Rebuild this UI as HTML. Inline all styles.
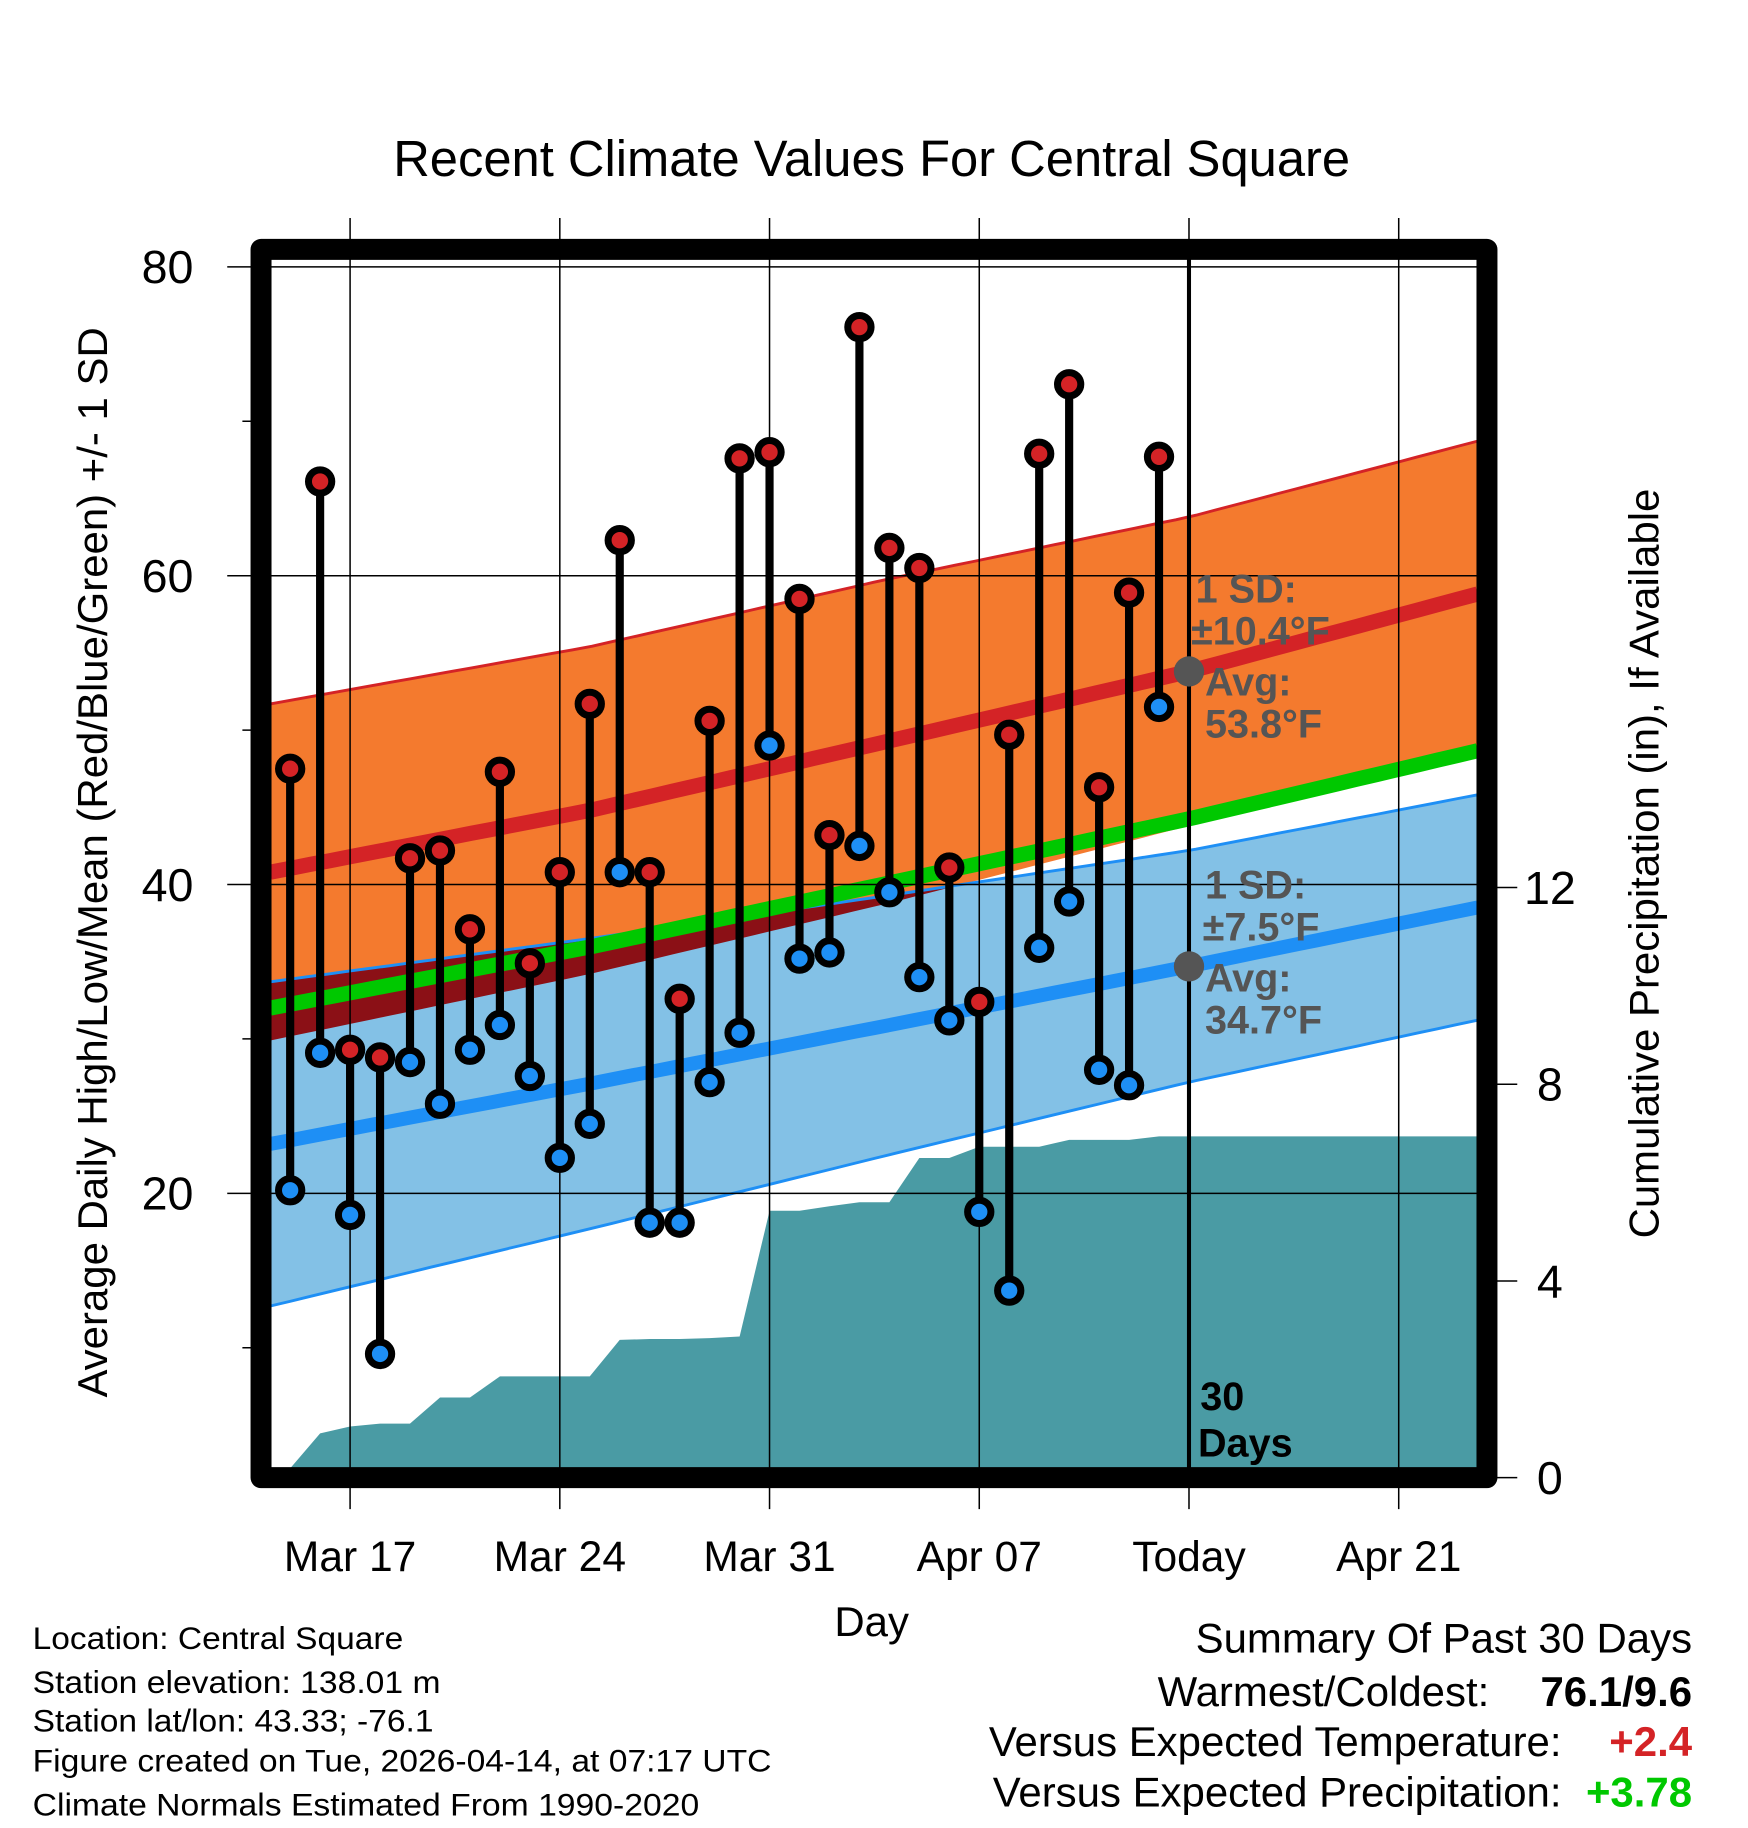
<!DOCTYPE html>
<html><head><meta charset="utf-8"><style>
html,body{margin:0;padding:0;background:#fff;}
svg{display:block;font-family:"Liberation Sans",Arial,sans-serif;}
</style></head><body>
<svg id="chart" width="1748" height="1828" viewBox="0 0 1500 1568.6" xmlns="http://www.w3.org/2000/svg">
<g id="layer"></g>
</svg>
<script>
// ---- data ----
const dayLabels = ["Mar 17","Mar 24","Mar 31","Apr 07","Today","Apr 21"];
const dayLabelIdx = [2,9,16,23,30,37];
const highs = [47.5,66.1,29.3,28.8,41.7,42.2,37.1,47.3,34.9,40.8,51.7,62.3,40.8,32.6,50.6,67.6,68.0,58.5,43.2,76.1,61.8,60.5,41.1,32.4,49.7,67.9,72.4,46.3,58.9,67.7];
const lows = [20.2,29.1,18.6,9.6,28.5,25.8,29.3,30.9,27.6,22.3,24.5,40.8,18.1,18.1,27.2,30.4,49.0,35.2,35.6,42.5,39.5,34.0,31.2,18.8,13.7,35.9,38.9,28.0,27.0,51.5];
const precipCum = [0,0.9,1.04,1.1,1.1,1.63,1.63,2.06,2.06,2.06,2.06,2.8,2.82,2.82,2.84,2.87,5.43,5.43,5.52,5.6,5.6,6.5,6.5,6.73,6.73,6.73,6.87,6.87,6.87,6.94];
const normDays = [-0.66,10,20,30,39.6];
const normHigh = [40.8,44.8,49.3,53.8,58.8];
const normHighSD = [10.9,10.6,10.5,10.0,9.9];
const normLow = [23.2,27.1,30.9,34.7,38.5];
const normLowSD = [10.5,9.4,8.4,7.5,7.3];
const tempTicks = [20,40,60,80];
const tempMinor = [10,30,50,70];
const precipTicks = [0,4,8,12];

// ---- scales ----
const X0=249, DX=25.71;
const xs = d => X0 + d*DX;
const yt = t => 1289 - t*13.25;
const yp = p => 1268 - p*42.2;
const L=232, R=1268, T=222, B=1260;
const dL=(L-X0)/DX, dR=(R-X0)/DX;

const NS="http://www.w3.org/2000/svg";
const layer=document.getElementById('layer');
function mk(tag, attrs, parent){const e=document.createElementNS(NS,tag);for(const k in attrs)e.setAttribute(k,attrs[k]);(parent||layer).appendChild(e);return e;}
function interp(arr,d){for(let i=0;i<normDays.length-1;i++){if(d<=normDays[i+1]||i==normDays.length-2){const f=(d-normDays[i])/(normDays[i+1]-normDays[i]);return arr[i]+f*(arr[i+1]-arr[i]);}}}
function sampled(fn){const pts=[];for(let k=0;k<=60;k++){const d=dL+(dR-dL)*k/60;pts.push([xs(d),yt(fn(d))]);}return pts;}
const pstr=p=>p.map(q=>q[0].toFixed(1)+','+q[1].toFixed(1)).join(' ');

const defs=mk('defs',{});
const clip=mk('clipPath',{id:'plotclip'},defs);
mk('rect',{x:L,y:T,width:R-L,height:B-T},clip);
const hiUp=sampled(d=>interp(normHigh,d)+interp(normHighSD,d));
const hiDn=sampled(d=>interp(normHigh,d)-interp(normHighSD,d));
const loUp=sampled(d=>interp(normLow,d)+interp(normLowSD,d));
const loDn=sampled(d=>interp(normLow,d)-interp(normLowSD,d));
const oc=mk('clipPath',{id:'orangeclip'},defs);
mk('polygon',{points:pstr(hiUp.concat(hiDn.slice().reverse()))},oc);

const g=mk('g',{'clip-path':'url(#plotclip)'});


let e;
e=mk('polygon',{points:pstr(hiUp.concat(hiDn.slice().reverse())),fill:'#f47a2e'},g);

e=mk('polyline',{points:pstr(hiUp),fill:'none',stroke:'#d42326','stroke-width':2.5},g);

e=mk('polygon',{points:pstr(loUp.concat(loDn.slice().reverse())),fill:'#83c1e6'},g);

e=mk('polygon',{points:pstr(loUp.concat(loDn.slice().reverse())),fill:'#8b1016','clip-path':'url(#orangeclip)'},g);

e=mk('polyline',{points:pstr(loUp),fill:'none',stroke:'#1e8ff5','stroke-width':2.5},g);

e=mk('polyline',{points:pstr(loDn),fill:'none',stroke:'#1e8ff5','stroke-width':2.5},g);

e=mk('polyline',{points:pstr(sampled(d=>interp(normHigh,d))),fill:'none',stroke:'#d42326','stroke-width':13},g);

e=mk('polyline',{points:pstr(sampled(d=>interp(normLow,d))),fill:'none',stroke:'#1e8ff5','stroke-width':12},g);

e=mk('polyline',{points:pstr(sampled(d=>(interp(normHigh,d)+interp(normLow,d))/2)),fill:'none',stroke:'#00c800','stroke-width':13},g);

// precip
const pp=[];
precipCum.forEach((v,i)=>pp.push([xs(i),Math.min(yp(v),B)]));
pp.unshift([xs(0.25),B+5]);
pp.push([R+5,yp(precipCum[precipCum.length-1])]);pp.push([R+5,B+5]);
e=mk('polygon',{points:pstr(pp),fill:'#4a9ba4'},g);

// grid
dayLabelIdx.forEach((d,i)=>{
  e=mk('line',{x1:xs(d),x2:xs(d),y1:187,y2:1295,stroke:'#000','stroke-width':1.3});
  
});
tempTicks.forEach(t=>{
  e=mk('line',{x1:195,x2:R,y1:yt(t),y2:yt(t),stroke:'#000','stroke-width':1.3});
  
  e=mk('text',{x:166,y:yt(t)+14,'text-anchor':'end','font-size':40});e.textContent=t;
  
});
tempMinor.forEach(t=>{
  e=mk('line',{x1:208,x2:225,y1:yt(t),y2:yt(t),stroke:'#000','stroke-width':1.3});
  
});
precipTicks.forEach(p=>{
  e=mk('line',{x1:1276,x2:1302,y1:yp(p),y2:yp(p),stroke:'#000','stroke-width':1.3});
  
  e=mk('text',{x:1330,y:yp(p)+14,'text-anchor':'middle','font-size':40});e.textContent=p;
  
});
dayLabels.forEach((s,i)=>{
  e=mk('text',{x:xs(dayLabelIdx[i]),y:1348,'text-anchor':'middle','font-size':36.5});e.textContent=s;
  
});
// today line
e=mk('line',{x1:xs(30),x2:xs(30),y1:214,y2:1268,stroke:'#000','stroke-width':3.5});

// stems and markers
highs.forEach((h,i)=>{
  e=mk('line',{x1:xs(i),x2:xs(i),y1:yt(h),y2:yt(lows[i]),stroke:'#000','stroke-width':7});
  
});
highs.forEach((h,i)=>{
  e=mk('circle',{cx:xs(i),cy:yt(h),r:10,fill:'#d42326',stroke:'#000','stroke-width':6});
  
  e=mk('circle',{cx:xs(i),cy:yt(lows[i]),r:10,fill:'#1e8ff5',stroke:'#000','stroke-width':6});
  
});
// avg dots
e=mk('circle',{cx:xs(30),cy:yt(normHigh[3]),r:13,fill:'#555'});

e=mk('circle',{cx:xs(30),cy:yt(normLow[3]),r:13,fill:'#555'});

// box
e=mk('rect',{x:224,y:214,width:1052,height:1054,fill:'none',stroke:'#000','stroke-width':18,'stroke-linejoin':'round'});

</script>
<svg style="position:absolute;left:0;top:0" width="1748" height="1828" viewBox="0 0 1500 1568.6" xmlns="http://www.w3.org/2000/svg" font-family="Liberation Sans, Arial, sans-serif">
<text x="748" y="151" text-anchor="middle" font-size="43.5">Recent Climate Values For Central Square</text>
<text transform="translate(92,740) rotate(-90)" text-anchor="middle" font-size="36">Average Daily High/Low/Mean (Red/Blue/Green) +/- 1 SD</text>
<text transform="translate(1423,741) rotate(-90)" text-anchor="middle" font-size="36">Cumulative Precipitation (in), If Available</text>
<text x="748" y="1404" text-anchor="middle" font-size="36">Day</text>
<g fill="#555" font-weight="bold" font-size="34">
<text x="1026" y="517">1 SD:</text>
<text x="1022" y="553">±10.4°F</text>
<text x="1034" y="597">Avg:</text>
<text x="1034" y="633">53.8°F</text>
</g>
<g fill="#555" font-weight="bold" font-size="34">
<text x="1034" y="771">1 SD:</text>
<text x="1032" y="807">±7.5°F</text>
<text x="1034" y="851">Avg:</text>
<text x="1034" y="887">34.7°F</text>
</g>
<g font-weight="bold" font-size="34">
<text x="1030" y="1210">30</text>
<text x="1028" y="1250">Days</text>
</g>
<g font-size="27">
<text x="28" y="1415" textLength="318" lengthAdjust="spacingAndGlyphs">Location: Central Square</text>
<text x="28" y="1453" textLength="350" lengthAdjust="spacingAndGlyphs">Station elevation: 138.01 m</text>
<text x="28" y="1486" textLength="344" lengthAdjust="spacingAndGlyphs">Station lat/lon: 43.33; -76.1</text>
<text x="28" y="1520" textLength="634" lengthAdjust="spacingAndGlyphs">Figure created on Tue, 2026-04-14, at 07:17 UTC</text>
<text x="28" y="1558" textLength="572" lengthAdjust="spacingAndGlyphs">Climate Normals Estimated From 1990-2020</text>
</g>
<g font-size="36">
<text x="1452" y="1418" text-anchor="end">Summary Of Past 30 Days</text>
<text x="1278" y="1464" text-anchor="end">Warmest/Coldest:</text>
<text x="1452" y="1464" text-anchor="end" font-weight="bold">76.1/9.6</text>
<text x="1340" y="1507" text-anchor="end">Versus Expected Temperature:</text>
<text x="1452" y="1507" text-anchor="end" font-weight="bold" fill="#d42326">+2.4</text>
<text x="1340" y="1550" text-anchor="end">Versus Expected Precipitation:</text>
<text x="1452" y="1550" text-anchor="end" font-weight="bold" fill="#00c800">+3.78</text>
</g>
</svg>
</body></html>
